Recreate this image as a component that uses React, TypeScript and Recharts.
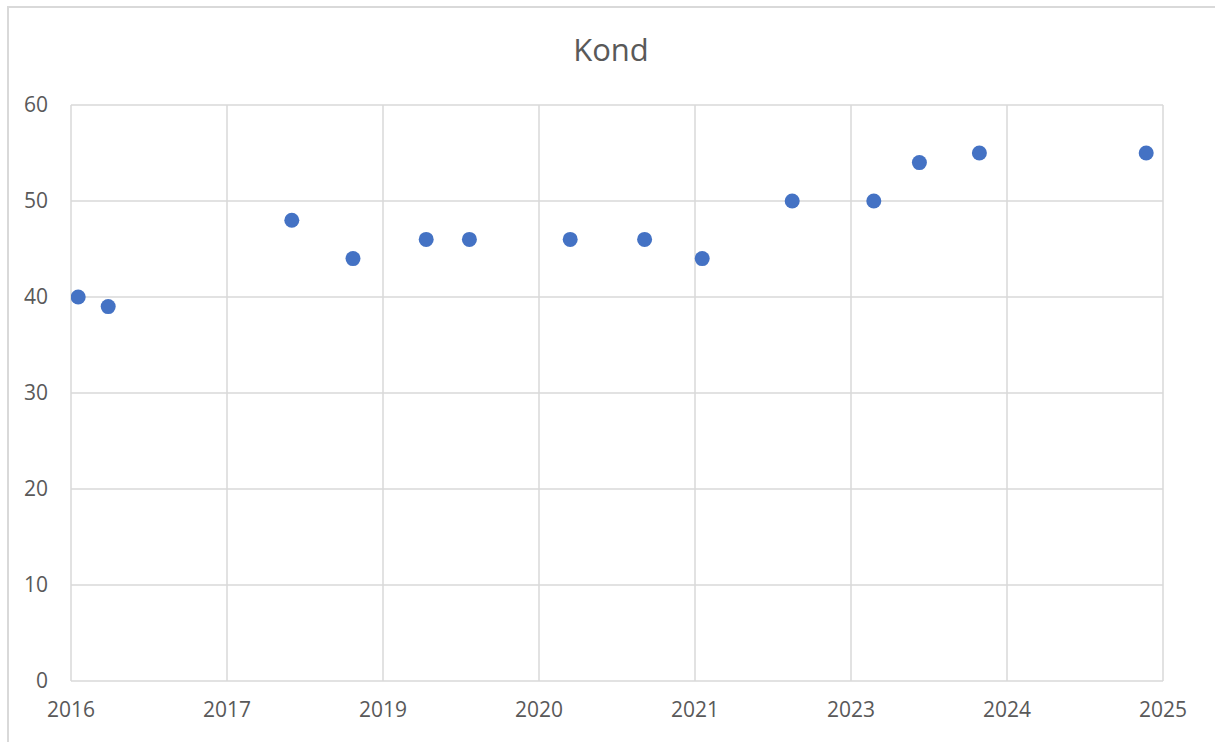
import { CartesianGrid, Scatter, ScatterChart, XAxis, YAxis } from 'recharts';

const pointYears = [
  2016.06, 2016.31, 2017.84, 2018.35, 2018.96, 2019.32, 2020.16, 2020.78, 2021.26, 2022.01, 2022.69,
  2023.07, 2023.57, 2024.96,
];
const pointValues = [40, 39, 48, 44, 46, 46, 46, 46, 44, 50, 50, 54, 55, 55];

const xTickValues = [2016, 2017.3, 2018.6, 2019.9, 2021.2, 2022.5, 2023.8, 2025.1];
const xTickLabels = ['2016', '2017', '2019', '2020', '2021', '2023', '2024', '2025'];
const yTickValues = [0, 10, 20, 30, 40, 50, 60];

const data = pointYears.map((year, i) => ({ year, value: pointValues[i] }));

const font = '"Open Sans", Calibri, sans-serif';
const textColor = '#595959';
const gridColor = '#d9d9d9';

export default function App() {
  return (
    <div
      style={{
        position: 'absolute',
        left: 0,
        top: 0,
        width: 1215,
        height: 742,
        overflow: 'hidden',
        background: '#fff',
        fontFamily: font,
      }}
    >
      <div
        style={{
          position: 'absolute',
          left: 7,
          top: 6,
          width: 1215,
          height: 742,
          border: `2px solid ${gridColor}`,
        }}
      />
      <div
        style={{
          position: 'absolute',
          left: 0,
          top: 28,
          width: 1222,
          textAlign: 'center',
          fontSize: 31,
          color: textColor,
          lineHeight: '42px',
        }}
      >
        Kond
      </div>
      <div style={{ position: 'absolute', left: 0, top: 0 }}>
        <ScatterChart width={1215} height={742} margin={{ top: 105, right: 52, bottom: 21, left: 11 }}>
          <CartesianGrid stroke={gridColor} strokeWidth={1.5} />
          <XAxis
            type="number"
            dataKey="year"
            domain={[2016, 2025.1]}
            ticks={xTickValues}
            interval={0}
            allowDataOverflow
            tickFormatter={(_v: number, i: number) => xTickLabels[i]}
            axisLine={false}
            tickLine={false}
            height={40}
            tickMargin={15}
            tick={{ fill: textColor, fontSize: 21, fontFamily: font }}
          />
          <YAxis
            type="number"
            dataKey="value"
            domain={[0, 60]}
            ticks={yTickValues}
            interval={0}
            axisLine={false}
            tickLine={false}
            width={60}
            tickMargin={17}
            tick={{ fill: textColor, fontSize: 21, fontFamily: font }}
          />
          <Scatter
            data={data}
            fill="#4472c4"
            isAnimationActive={false}
            shape={(props: any) => <circle cx={props.cx} cy={props.cy} r={7.5} fill="#4472c4" />}
          />
        </ScatterChart>
      </div>
    </div>
  );
}
